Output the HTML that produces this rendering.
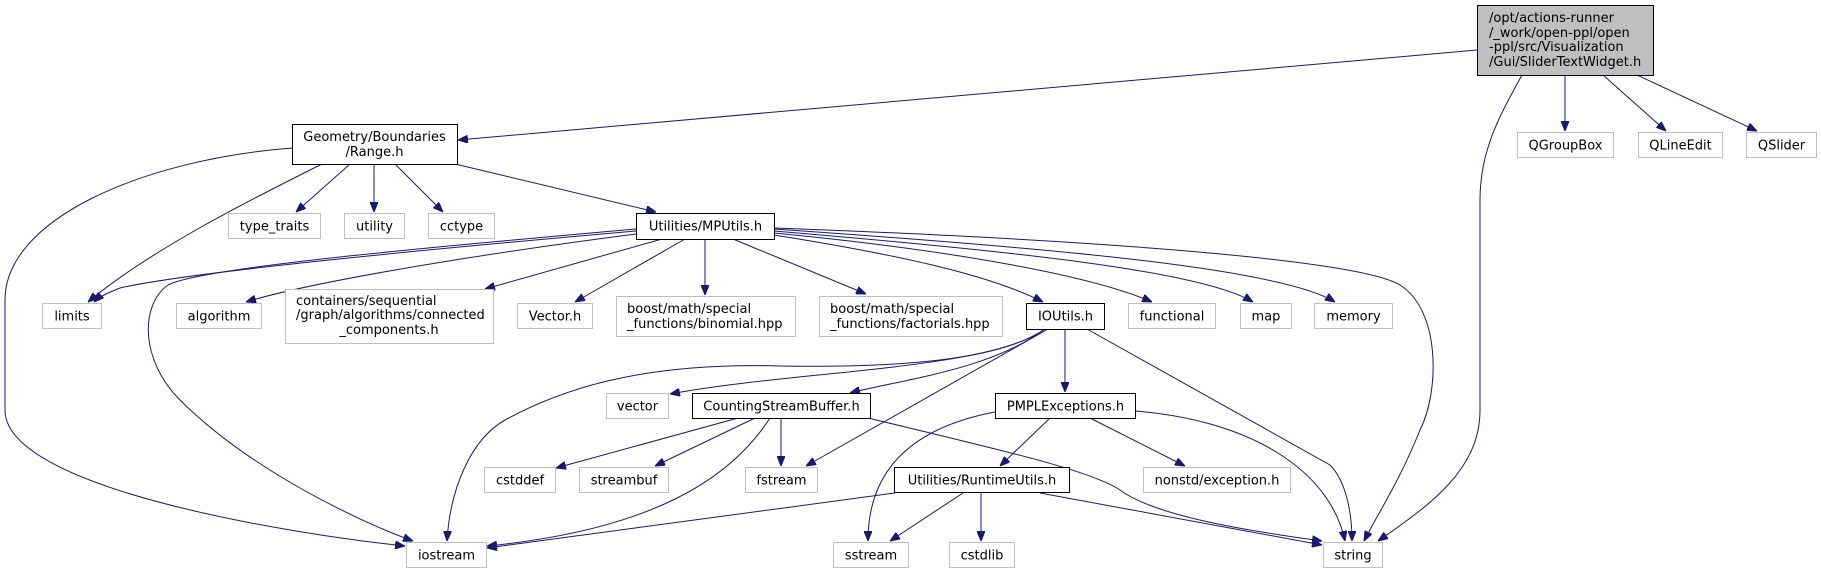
<!DOCTYPE html>
<html><head><meta charset="utf-8"><style>
html,body{margin:0;padding:0;background:#fff;}
svg{display:block;}
text{font-family:"DejaVu Sans","Liberation Sans",sans-serif;font-size:13px;fill:#000;}
.e{fill:none;stroke:#191970;stroke-width:1;}
.g{fill:#fff;stroke:#bfbfbf;stroke-width:1;}
.b{fill:#fff;stroke:#000;stroke-width:1;}
</style></head><body>
<svg width="1821" height="573" viewBox="0 0 1821 573" xmlns="http://www.w3.org/2000/svg">
<defs>
<marker id="a" markerWidth="10" markerHeight="8" refX="10" refY="4" orient="auto" markerUnits="userSpaceOnUse">
<path d="M0,0 L10,4 L0,8 Z" fill="#191970" stroke="#191970"/></marker>
</defs>
<g marker-end="url(#a)">
<path class="e" d="M1477,50 L458,140"/>
<path class="e" d="M1522,75 C1500,115 1480,150 1480,200 L1480,410 C1480,470 1430,505 1378,541"/>
<path class="e" d="M1565,75 L1565,131"/>
<path class="e" d="M1603,75 L1666,131"/>
<path class="e" d="M1637,75 L1757,131"/>
<path class="e" d="M292,148 C140,160 5,220 5,300 L5,410 C5,490 300,535 405,546"/>
<path class="e" d="M322,164 C250,200 150,250 88,302"/>
<path class="e" d="M350,164 L296,212"/>
<path class="e" d="M374,164 L374,212"/>
<path class="e" d="M395,164 L443,212"/>
<path class="e" d="M455,164 L656,212"/>
<path class="e" d="M636,231 C420,250 190,272 120,288 C110,292 100,296 94,302"/>
<path class="e" d="M636,229 C420,248 200,268 168,285 C140,305 140,360 180,400 C250,470 360,522 413,541"/>
<path class="e" d="M636,234 C450,258 300,285 246,302"/>
<path class="e" d="M662,239 L485,289"/>
<path class="e" d="M685,239 L575,302"/>
<path class="e" d="M705,239 L705,295"/>
<path class="e" d="M733,239 L866,294"/>
<path class="e" d="M774,235 C900,255 990,275 1043,302"/>
<path class="e" d="M774,233 C950,250 1090,275 1152,302"/>
<path class="e" d="M774,231 C1000,250 1200,270 1253,302"/>
<path class="e" d="M774,229 C1050,248 1280,268 1335,302"/>
<path class="e" d="M774,228 C1100,240 1360,260 1400,285 C1440,310 1440,390 1420,430 C1400,480 1380,510 1364,541"/>
<path class="e" d="M1045,329 C1000,360 900,368 780,366 C640,362 560,390 505,420 C470,440 450,490 447,541"/>
<path class="e" d="M1045,329 C990,370 800,370 670,394"/>
<path class="e" d="M1045,329 C990,370 900,380 850,393"/>
<path class="e" d="M1048,329 L806,466"/>
<path class="e" d="M1065,329 L1065,392"/>
<path class="e" d="M1087,329 L1330,465 C1345,480 1352,510 1352,541"/>
<path class="e" d="M738,418 L556,468"/>
<path class="e" d="M755,418 L655,466"/>
<path class="e" d="M781,418 L781,466"/>
<path class="e" d="M770,418 C730,480 650,530 487,546"/>
<path class="e" d="M868,418 C1000,450 1090,470 1120,490 C1160,520 1280,535 1322,541"/>
<path class="e" d="M995,412 C900,430 868,480 868,541"/>
<path class="e" d="M1050,418 L1000,466"/>
<path class="e" d="M1090,418 L1185,466"/>
<path class="e" d="M1135,411 C1250,420 1330,470 1345,541"/>
<path class="e" d="M895,493 L487,548"/>
<path class="e" d="M963,493 L890,541"/>
<path class="e" d="M981,493 L981,541"/>
<path class="e" d="M1040,493 L1322,545"/>
</g>
<rect x="1477.5" y="5.5" width="176" height="70" fill="#bfbfbf" stroke="#000"/>
<text x="1489" y="22">/opt/actions-runner</text>
<text x="1489" y="37">/_work/open-ppl/open</text>
<text x="1489" y="51">-ppl/src/Visualization</text>
<text x="1489" y="66">/Gui/SliderTextWidget.h</text>

<rect class="b" x="292.5" y="124.5" width="165" height="40"/>
<text x="374.5" y="141" text-anchor="middle">Geometry/Boundaries</text>
<text x="374.5" y="156" text-anchor="middle">/Range.h</text>

<rect class="g" x="1517.5" y="132.5" width="96" height="25"/><text x="1565.5" y="149.5" text-anchor="middle">QGroupBox</text>
<rect class="g" x="1638.5" y="132.5" width="84" height="25"/><text x="1680.5" y="149.5" text-anchor="middle">QLineEdit</text>
<rect class="g" x="1746.5" y="132.5" width="70" height="25"/><text x="1781.5" y="149.5" text-anchor="middle">QSlider</text>

<rect class="g" x="228.5" y="213.5" width="92" height="25"/><text x="274.5" y="230.5" text-anchor="middle">type_traits</text>
<rect class="g" x="344.5" y="213.5" width="60" height="25"/><text x="374.5" y="230.5" text-anchor="middle">utility</text>
<rect class="g" x="428.5" y="213.5" width="66" height="25"/><text x="461.5" y="230.5" text-anchor="middle">cctype</text>
<rect class="b" x="636.5" y="213.5" width="138" height="26"/><text x="705.5" y="230.5" text-anchor="middle">Utilities/MPUtils.h</text>

<rect class="g" x="42.5" y="303.5" width="59" height="25"/><text x="72" y="320.5" text-anchor="middle">limits</text>
<rect class="g" x="176.5" y="303.5" width="85" height="25"/><text x="219" y="320.5" text-anchor="middle">algorithm</text>
<rect class="g" x="285.5" y="289.5" width="208" height="54"/>
<text x="296" y="305">containers/sequential</text>
<text x="296" y="319">/graph/algorithms/connected</text>
<text x="389" y="334" text-anchor="middle">_components.h</text>
<rect class="g" x="517.5" y="303.5" width="75" height="25"/><text x="555" y="320.5" text-anchor="middle">Vector.h</text>
<rect class="g" x="616.5" y="296.5" width="179" height="40"/>
<text x="627" y="313">boost/math/special</text><text x="627" y="328">_functions/binomial.hpp</text>
<rect class="g" x="819.5" y="296.5" width="183" height="40"/>
<text x="830" y="313">boost/math/special</text><text x="830" y="328">_functions/factorials.hpp</text>
<rect class="b" x="1026.5" y="303.5" width="78" height="26"/><text x="1065.5" y="320.5" text-anchor="middle">IOUtils.h</text>
<rect class="g" x="1128.5" y="303.5" width="87" height="25"/><text x="1172" y="320.5" text-anchor="middle">functional</text>
<rect class="g" x="1240.5" y="303.5" width="51" height="25"/><text x="1266" y="320.5" text-anchor="middle">map</text>
<rect class="g" x="1314.5" y="303.5" width="78" height="25"/><text x="1353.5" y="320.5" text-anchor="middle">memory</text>

<rect class="g" x="606.5" y="393.5" width="62" height="25"/><text x="637.5" y="410.5" text-anchor="middle">vector</text>
<rect class="b" x="692.5" y="393.5" width="178" height="25"/><text x="781.5" y="410.5" text-anchor="middle">CountingStreamBuffer.h</text>
<rect class="b" x="995.5" y="393.5" width="140" height="25"/><text x="1065.5" y="410.5" text-anchor="middle">PMPLExceptions.h</text>

<rect class="g" x="484.5" y="467.5" width="71" height="25"/><text x="520" y="484.5" text-anchor="middle">cstddef</text>
<rect class="g" x="579.5" y="467.5" width="89" height="25"/><text x="624" y="484.5" text-anchor="middle">streambuf</text>
<rect class="g" x="745.5" y="467.5" width="72" height="25"/><text x="781.5" y="484.5" text-anchor="middle">fstream</text>
<rect class="b" x="894.5" y="467.5" width="175" height="25"/><text x="982" y="484.5" text-anchor="middle">Utilities/RuntimeUtils.h</text>
<rect class="g" x="1143.5" y="467.5" width="147" height="25"/><text x="1217" y="484.5" text-anchor="middle">nonstd/exception.h</text>

<rect class="g" x="406.5" y="542.5" width="80" height="25"/><text x="446.5" y="559.5" text-anchor="middle">iostream</text>
<rect class="g" x="833.5" y="542.5" width="75" height="25"/><text x="871" y="559.5" text-anchor="middle">sstream</text>
<rect class="g" x="949.5" y="542.5" width="65" height="25"/><text x="982" y="559.5" text-anchor="middle">cstdlib</text>
<rect class="g" x="1323.5" y="542.5" width="59" height="25"/><text x="1353" y="559.5" text-anchor="middle">string</text>
</svg>
</body></html>
